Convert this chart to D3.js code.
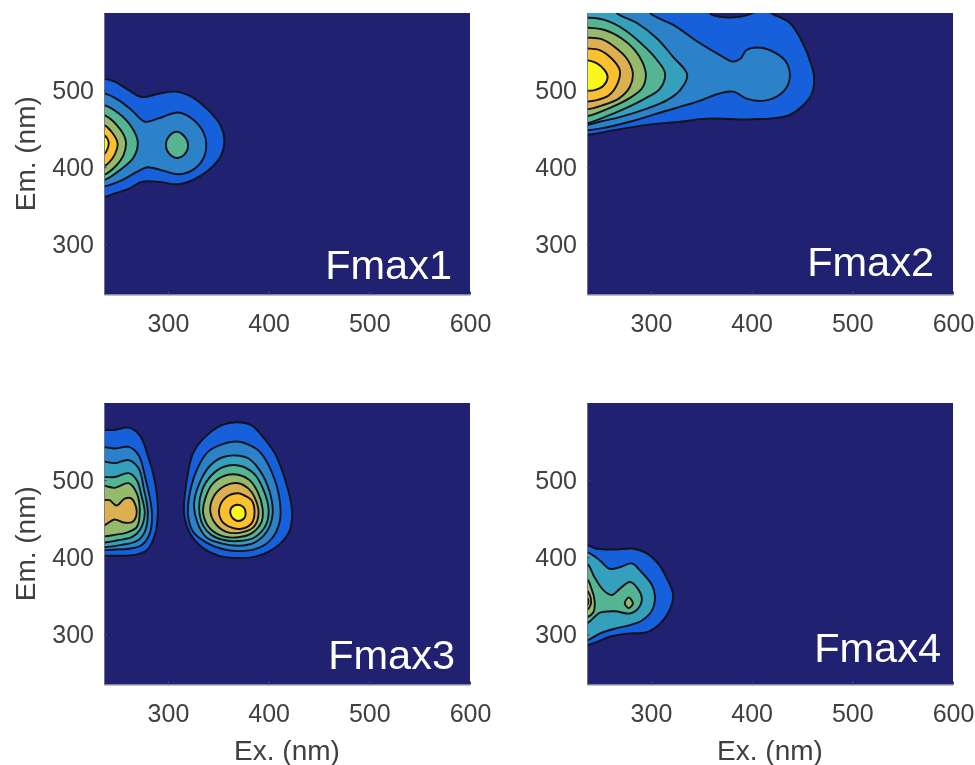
<!DOCTYPE html>
<html>
<head>
<meta charset="utf-8">
<title>Fmax components</title>
<script src="https://cdn.jsdelivr.net/npm/d3@7"></script>
<style>
  html, body { margin: 0; padding: 0; background: #fff; }
  svg { display: block; filter: blur(0.5px); font-family: "Liberation Sans", Arial, sans-serif; }
</style>
</head>
<body>
<div id="chart"></div>
<script>
const exTicks = [300, 400, 500, 600];
const emTicks = [300, 400, 500];
const exDomain = [236.5, 600];
const emDomain = [235, 600];
const panelNames = ['Fmax1', 'Fmax2', 'Fmax3', 'Fmax4'];
const levelColors = ['#202170', '#1760dc', '#2b82c9', '#34a0bc', '#55b592', '#96ba6c', '#dcb050', '#fbc02f', '#f9f71c'];

// contour rings, [ex, em] in nm
const f1a = [[236,515],[247,511],[261,500],[274,491],[290,495],[307,498],[324,491],[340,474],[352,455],[356,435],[353,416],[342,398],[327,385],[310,378],[292,381],[274,381],[261,372],[247,366],[236,361]];
const f1b = [[236,496],[251,487],[264,474],[277,459],[290,463],[310,471],[324,463],[335,446],[338,431],[335,411],[324,396],[310,391],[294,396],[280,400],[269,394],[254,383],[236,375]];
const f1c = [[236,481],[251,470],[264,452],[270,433],[266,413],[254,398],[236,383]];
const f1c2 = [[309,446],[317,439],[320,429],[316,416],[309,412],[301,418],[298,429],[301,440]];
const f1d = [[236,468],[249,455],[258,435],[256,416],[247,400],[236,390]];
const f1e = [[236,455],[244,446],[250,431],[247,416],[242,407],[236,401]];
const f1f = [[236,442],[241,433],[240,424],[236,416]];

const f2a = [[236,442],[263,448],[296,455],[329,459],[356,463],[395,462],[425,464],[438,468],[451,480],[460,496],[462,517],[460,530],[450,563],[438,587],[422,598],[415,603],[407,603],[397,598],[388,595],[378,594],[369,595],[360,598],[352,612]];
const f2b = [[236,448],[249,450],[279,459],[312,472],[346,485],[369,496],[382,498],[395,489],[409,486],[424,491],[434,502],[438,519],[434,537],[424,548],[409,555],[395,552],[389,541],[381,537],[369,545],[346,563],[323,584],[301,598],[290,612]];
const f2c = [[236,455],[249,459],[269,465],[296,476],[316,487],[329,500],[336,520],[322,543],[306,567],[286,587],[268,598],[255,612]];
const f2d = [[236,594],[254,591],[274,578],[294,556],[306,539],[314,522],[309,502],[294,489],[274,476],[254,465],[236,457]];
const f2e = [[236,581],[254,578],[271,567],[284,552],[292,535],[295,519],[291,502],[278,489],[261,478],[236,466]];
const f2f = [[236,568],[251,566],[264,556],[276,541],[282,522],[279,504],[268,489],[251,480],[236,475]];
const f2g = [[236,554],[249,552],[261,541],[269,526],[267,509],[258,493],[246,487],[236,485]];
const f2h = [[236,539],[246,535],[254,526],[257,517],[253,506],[244,500],[236,499]];

const f3a = [[236,565],[247,565],[261,568],[272,558],[280,532],[287,498],[290,459],[287,429],[279,409],[267,403],[251,402],[236,402]];
const f3b = [[236,543],[247,541],[261,543],[271,532],[277,506],[284,459],[282,431],[274,416],[261,411],[247,410],[236,409]];
const f3c = [[236,524],[247,522],[261,526],[271,515],[276,489],[280,459],[277,433],[269,421],[254,416],[236,413]];
const f3d = [[236,504],[247,504],[261,509],[269,500],[274,478],[277,457],[272,435],[264,426],[250,422],[236,419]];
const f3e = [[236,493],[247,490],[261,496],[269,483],[272,459],[269,439],[259,432],[247,429],[236,427]];
const f3f = [[236,474],[242,474],[249,467],[257,476],[264,476],[269,459],[265,446],[256,445],[247,449],[240,444],[236,441]];
const f3p = [[368,575],[353,571],[337,556],[325,535],[319,502],[316,457],[322,431],[334,413],[350,402],[370,399],[390,402],[410,416],[421,435],[423,463],[416,502],[406,535],[393,558],[383,571]];
const f3q = [[368,550],[353,546],[340,537],[330,517],[322,485],[320,454],[325,433],[337,420],[353,411],[370,408],[390,412],[403,424],[411,446],[411,474],[403,511],[391,537],[380,546]];
const f3r = [[368,532],[355,530],[342,519],[332,498],[326,470],[329,446],[338,426],[353,418],[370,415],[386,419],[399,435],[404,457],[401,485],[391,513],[380,528]];
const f3s = [[370,519],[355,517],[343,506],[334,487],[331,463],[335,441],[343,429],[357,422],[370,421],[385,425],[397,441],[400,461],[395,487],[385,509]];
const f3t = [[370,507],[357,506],[345,496],[337,476],[335,457],[342,437],[355,427],[370,426],[383,431],[393,446],[394,463],[389,485],[381,500]];
const f3u = [[370,496],[357,493],[346,480],[342,461],[347,444],[358,433],[372,432],[385,439],[390,457],[386,478],[380,489]];
const f3v = [[370,483],[358,478],[351,463],[353,448],[362,439],[373,437],[383,444],[386,459],[383,474],[376,480]];
const f3w = [[369,468],[363,464],[362,457],[365,450],[370,447],[376,451],[377,459],[375,465]];

const f4a = [[236,416],[246,411],[263,410],[283,411],[296,405],[307,392],[316,372],[322,351],[319,333],[309,314],[296,303],[276,301],[259,297],[246,290],[236,286]];
const f4b = [[236,407],[249,396],[259,385],[269,387],[281,392],[289,383],[301,364],[304,349],[301,331],[291,318],[279,312],[263,307],[249,301],[236,292]];
const f4c = [[236,392],[244,374],[253,357],[261,351],[269,359],[279,368],[286,361],[291,346],[287,333],[279,327],[264,330],[249,328],[236,314]];
const f4d = [[278,348],[282,340],[278,334],[274,340]];
const f4e = [[236,372],[241,359],[244,344],[243,329],[236,322]];
const f4f = [[236,357],[240,348],[240,338],[236,331]];
const f4g = [[236,348],[238,343],[236,337]];

// [colour level, ring] painted in this order
const rings1 = [[1,f1a],[2,f1b],[4,f1c],[4,f1c2],[5,f1d],[7,f1e],[8,f1f]];
const rings2 = [[1,f2a],[2,f2b],[3,f2c],[4,f2d],[5,f2e],[6,f2f],[7,f2g],[8,f2h]];
const rings3 = [[1,f3a],[2,f3b],[3,f3c],[4,f3d],[5,f3e],[6,f3f],[1,f3p],[2,f3q],[3,f3r],[4,f3s],[5,f3t],[6,f3u],[7,f3v],[8,f3w]];
const rings4 = [[1,f4a],[3,f4b],[4,f4c],[5,f4d],[5,f4e],[6,f4f],[7,f4g]];
const panelRings = [rings1, rings2, rings3, rings4];

const width = 975;
const height = 765;
const pw = 366;
const ph = 281.5;
const lefts = [104, 587, 104, 587];
const tops = [13, 13, 403, 403];
const labelX = [452, 934, 455, 941];
const labelY = [279, 276, 669, 662];
const tickColor = '#404040';

const svg = d3.select('#chart').append('svg')
    .attr('width', width)
    .attr('height', height);

const xScale = d3.scaleLinear().domain(exDomain).range([0, pw]);
const yScale = d3.scaleLinear().domain(emDomain).range([ph, 0]);

const line = d3.line()
    .x(d => xScale(d[0]))
    .y(d => yScale(d[1]))
    .curve(d3.curveCatmullRomClosed.alpha(0.5));

// rings that run off the left edge get closed outside the clip
function closeRing(r) {
    if (r[0][0] > 236) return r;
    const a = r[0], b = r[r.length - 1];
    return r.concat([[216, b[1]], [216, a[1]]]);
}

panelNames.forEach((name, i) => {
    const g = svg.append('g')
        .attr('transform', 'translate(' + lefts[i] + ',' + tops[i] + ')');

    g.append('clipPath')
        .attr('id', 'clip' + i)
        .append('rect')
        .attr('width', pw)
        .attr('height', ph);

    g.append('rect')
        .attr('width', pw)
        .attr('height', ph)
        .attr('fill', levelColors[0]);

    g.append('g')
        .attr('clip-path', 'url(#clip' + i + ')')
        .selectAll('path')
        .data(panelRings[i])
        .join('path')
        .attr('d', d => line(closeRing(d[1])))
        .attr('fill', d => levelColors[d[0]])
        .attr('stroke', '#10121c')
        .attr('stroke-width', 1.9);

    const xAxis = d3.axisBottom(xScale).tickValues(exTicks).tickSizeInner(-3).tickSizeOuter(0).tickPadding(20);
    const yAxis = d3.axisLeft(yScale).tickValues(emTicks).tickSizeInner(-3).tickSizeOuter(0).tickPadding(10);

    const gx = g.append('g').attr('transform', 'translate(0,' + ph + ')').call(xAxis);
    const gy = g.append('g').call(yAxis);

    [gx, gy].forEach(a => {
        a.selectAll('text').attr('fill', tickColor).style('font-size', '25px').style('font-family', 'inherit');
        a.selectAll('line').attr('stroke', '#4a4a78');
        a.select('.domain').attr('stroke', '#77778a').attr('stroke-width', 0.9);
    });

    g.append('text')
        .attr('x', labelX[i] - lefts[i])
        .attr('y', labelY[i] - tops[i])
        .attr('text-anchor', 'end')
        .attr('fill', '#fff')
        .style('font-size', '41.5px')
        .text(name);

    if (i % 2 === 0) {
        g.append('text')
            .attr('transform', 'translate(-69,' + (ph / 2) + ') rotate(-90)')
            .attr('text-anchor', 'middle')
            .attr('fill', tickColor)
            .style('font-size', '28px')
            .text('Em. (nm)');
    }
    if (i >= 2) {
        g.append('text')
            .attr('x', pw / 2)
            .attr('y', ph + 75)
            .attr('text-anchor', 'middle')
            .attr('fill', tickColor)
            .style('font-size', '28px')
            .text('Ex. (nm)');
    }
});
</script>
</body>
</html>
